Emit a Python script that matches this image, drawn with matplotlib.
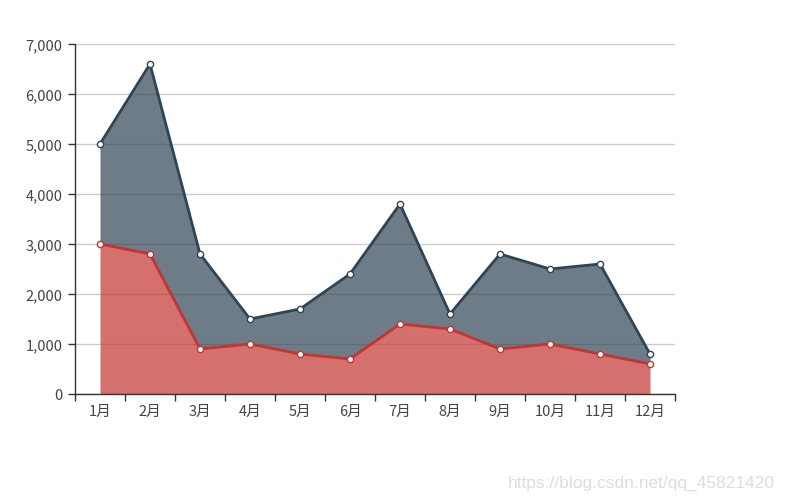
import matplotlib
matplotlib.use("Agg")
import matplotlib.pyplot as plt
from matplotlib.ticker import FuncFormatter, MultipleLocator
import numpy as np

plt.rcParams['font.family'] = ['Noto Sans CJK SC', 'DejaVu Sans']

months = ['1月', '2月', '3月', '4月', '5月', '6月', '7月', '8月', '9月', '10月', '11月', '12月']
top_series = [5000, 6600, 2800, 1500, 1700, 2400, 3800, 1600, 2800, 2500, 2600, 800]
red_series = [3000, 2800, 900, 1000, 800, 700, 1400, 1300, 900, 1000, 800, 600]

dark = '#2f4554'
red = '#c23531'

fig = plt.figure(figsize=(7.85, 5.02), dpi=100)
ax = fig.add_axes([75 / 785, 107 / 502, 600 / 785, 350 / 502])

x = np.arange(len(months))
ax.set_xlim(-0.5, len(months) - 0.5)
ax.set_ylim(0, 7000)

# grid behind areas
ax.yaxis.set_major_locator(MultipleLocator(1000))
ax.grid(axis='y', color='#cccccc', linewidth=1, zorder=0)
ax.set_axisbelow(True)

# stacked look: dark area between red and top line, red area from zero
ax.fill_between(x, red_series, top_series, color=dark, alpha=0.7, linewidth=0, zorder=2)
ax.fill_between(x, 0, red_series, color=red, alpha=0.7, linewidth=0, zorder=2)

ax.plot(x, top_series, color=dark, linewidth=2, marker='o', markersize=4.5,
        markerfacecolor='white', markeredgecolor=dark, markeredgewidth=1, zorder=4)
ax.plot(x, red_series, color=red, linewidth=2, marker='o', markersize=4.5,
        markerfacecolor='white', markeredgecolor=red, markeredgewidth=1, zorder=4)

ax.yaxis.set_major_formatter(FuncFormatter(lambda v, p: f'{int(v):,}'))
ax.set_xticks(x)
ax.set_xticklabels(months)
ax.set_xticks(np.arange(-0.5, len(months)), minor=True)
ax.tick_params(axis='x', which='major', length=0, pad=7, labelsize=10.5, labelcolor='#444444')
ax.tick_params(axis='x', which='minor', length=5, width=1, color='#333333')
ax.tick_params(axis='y', length=5, width=1, color='#333333', pad=4,
               labelsize=10.5, labelcolor='#444444')

for side in ['top', 'right']:
    ax.spines[side].set_visible(False)
for side in ['left', 'bottom']:
    ax.spines[side].set_color('#333333')
    ax.spines[side].set_linewidth(1)
    ax.spines[side].set_zorder(5)

fig.text(775 / 785, 1 - 488 / 502, 'https://blog.csdn.net/qq_45821420',
         ha='right', va='baseline', fontsize=12.5, color='#dddddd', family='Liberation Sans')

fig.savefig('out.png', dpi=100)
